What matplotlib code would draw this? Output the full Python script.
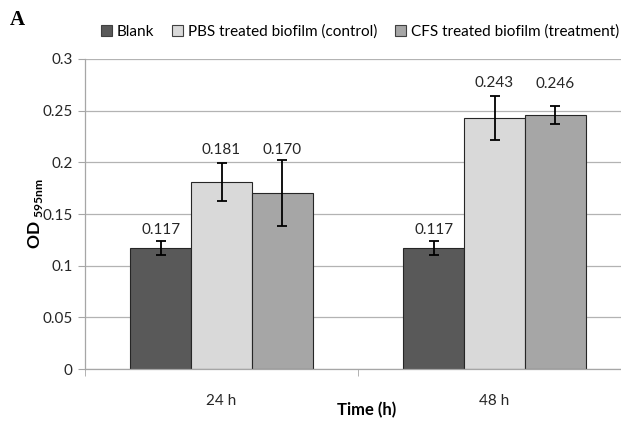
import numpy as np
import matplotlib
matplotlib.use("Agg")
import matplotlib.pyplot as plt
from matplotlib.patches import Patch

plt.rcParams['font.family'] = ['Lato', 'DejaVu Sans']
plt.rcParams['mathtext.fontset'] = 'custom'
plt.rcParams['mathtext.rm'] = 'Lato'
plt.rcParams['mathtext.bf'] = 'Lato:bold'

times = ['24 h', '48 h']
series = ['Blank', 'PBS treated biofilm (control)', 'CFS treated biofilm (treatment)']
values = [[0.117, 0.117],
          [0.181, 0.243],
          [0.170, 0.246]]
errors = [[0.0065, 0.0065],
          [0.018, 0.021],
          [0.032, 0.0085]]
labels = [['0.117', '0.117'],
          ['0.181', '0.243'],
          ['0.170', '0.246']]

colors = ['#595959', '#d9d9d9', '#a6a6a6']
# label offset above bar top, in points
label_dy = [[13, 13], [23, 25], [31, 22]]

fig = plt.figure(figsize=(6.21, 4.23), dpi=100)
ax = fig.add_axes([85 / 621, 54 / 423, 546 / 621, 310 / 423])

x = np.arange(len(times))
w = 0.223
for i, name in enumerate(series):
    pos = x + (i - 1) * w
    ax.bar(pos, values[i], w, color=colors[i], edgecolor='#262626', linewidth=0.8, zorder=2)
    ax.errorbar(pos, values[i], yerr=errors[i], fmt='none', ecolor='black',
                elinewidth=1.3, capsize=3.5, capthick=1.3, zorder=3)
    for j in range(len(times)):
        ax.annotate(labels[i][j], (pos[j], values[i][j]), xytext=(0, label_dy[i][j]),
                    textcoords='offset points', ha='center', va='center',
                    fontsize=11, color='#262626')

ax.set_xlim(-0.5, 1.5)
ax.set_ylim(0, 0.3)
ax.set_yticks([0, 0.05, 0.1, 0.15, 0.2, 0.25, 0.3])
ax.set_yticklabels(['0', '0.05', '0.1', '0.15', '0.2', '0.25', '0.3'])
ax.yaxis.grid(True, color='#b3b3b3', linewidth=0.9, zorder=0)
ax.set_axisbelow(True)
ax.set_xticks(x)
ax.set_xticklabels(times)
ax.set_xticks([-0.5, 0.5, 1.5], minor=True)
ax.tick_params(axis='x', which='major', length=0, pad=18, labelsize=11, colors='#262626')
ax.tick_params(axis='x', which='minor', length=5, color='#a6a6a6')
ax.tick_params(axis='y', length=5, color='#a6a6a6', labelsize=11, labelcolor='#262626', pad=4)

for s in ['top', 'right']:
    ax.spines[s].set_visible(False)
for s in ['left', 'bottom']:
    ax.spines[s].set_color('#a6a6a6')
    ax.spines[s].set_linewidth(0.9)

fig.text(367 / 621, 1 - 410 / 423, 'Time (h)', fontsize=12, fontweight='bold',
         ha='center', va='center')
ax.set_ylabel(r'$\mathbf{OD}_{\ \mathbf{595nm}}$', fontsize=12.5)
ax.yaxis.set_label_coords(-40 / 546, 0.5)

handles = [Patch(facecolor=c, edgecolor='#404040', linewidth=0.8) for c in colors]
fig.legend(handles, series, loc='center', bbox_to_anchor=(360 / 621, 1 - 32 / 423),
           ncol=3, frameon=False, fontsize=11, handlelength=0.7, handleheight=0.7,
           handletextpad=0.3, columnspacing=1.2)

fig.text(10 / 621, 1 - 20 / 423, 'A', family='Liberation Serif', fontweight='bold',
         fontsize=15, va='center', ha='left')

fig.savefig('out.png', dpi=100)
